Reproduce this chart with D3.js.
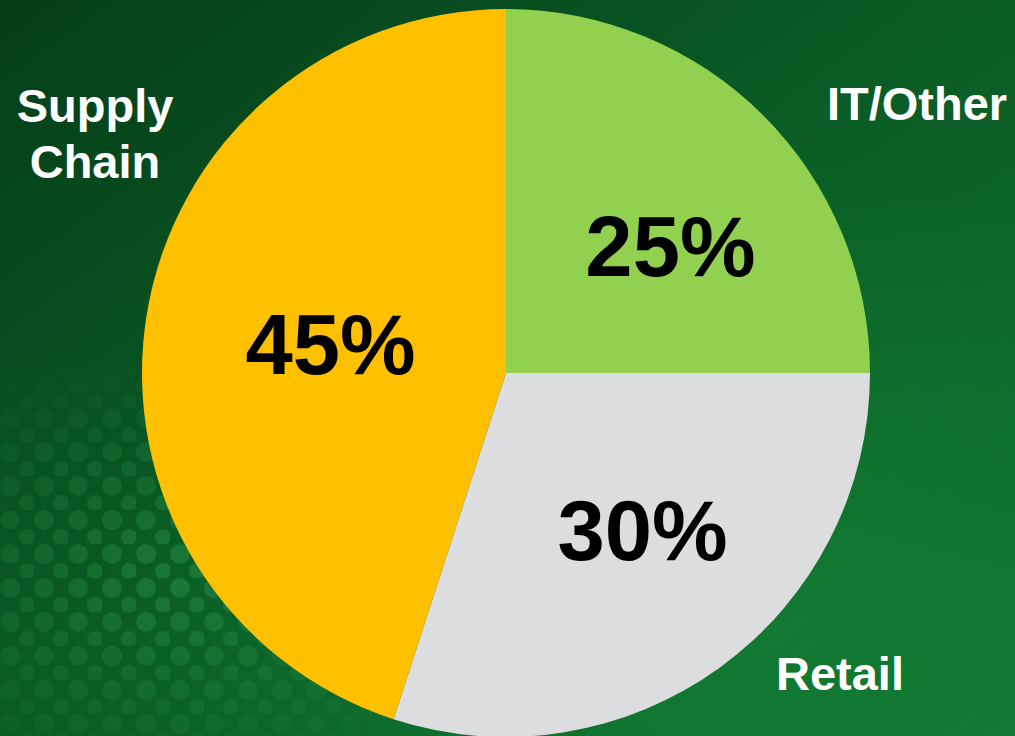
<!DOCTYPE html>
<html>
<head>
<meta charset="utf-8">
<script src="https://cdn.jsdelivr.net/npm/d3@7"></script>
<style>
  html, body { margin: 0; padding: 0; overflow: hidden; background: #0a5522; }
  svg { display: block; }
  text { font-family: "Liberation Sans", Arial, sans-serif; font-weight: bold; }
</style>
</head>
<body>
<script>
// chart data
const categories = ["IT/Other", "Retail", "Supply Chain"];
const shares = [25, 30, 45];
const percentLabels = ["25%", "30%", "45%"];
const sliceColors = ["#92D050", "#DCDDDE", "#FFC000"];

const w = 1015;
const h = 736;
const cx = 506, cy = 373;
const radius = 364;

const svg = d3.select("body").append("svg")
  .attr("width", w)
  .attr("height", h);

// background
const defs = svg.append("defs");
const bg = defs.append("linearGradient")
  .attr("id", "bg")
  .attr("x1", "0").attr("y1", "0").attr("x2", "1").attr("y2", "1");
bg.append("stop").attr("offset", "0%").attr("stop-color", "#053e19");
bg.append("stop").attr("offset", "45%").attr("stop-color", "#0a5a24");
bg.append("stop").attr("offset", "100%").attr("stop-color", "#0f7430");

const glow = defs.append("radialGradient")
  .attr("id", "glow")
  .attr("cx", "0.7").attr("cy", "0.8").attr("r", "0.6");
glow.append("stop").attr("offset", "0%").attr("stop-color", "#168a38").attr("stop-opacity", 0.5);
glow.append("stop").attr("offset", "100%").attr("stop-color", "#168a38").attr("stop-opacity", 0);

const dots = defs.append("pattern")
  .attr("id", "dots")
  .attr("width", 34).attr("height", 34)
  .attr("patternUnits", "userSpaceOnUse");
dots.append("circle").attr("cx", 10).attr("cy", 10).attr("r", 10).attr("fill", "#3fae5c");
dots.append("circle").attr("cx", 27).attr("cy", 27).attr("r", 8).attr("fill", "#3fae5c");

const dotMask = defs.append("radialGradient")
  .attr("id", "dotfade")
  .attr("cx", "0.17").attr("cy", "0.78").attr("r", "0.32");
dotMask.append("stop").attr("offset", "0%").attr("stop-color", "#fff").attr("stop-opacity", 0.32);
dotMask.append("stop").attr("offset", "100%").attr("stop-color", "#fff").attr("stop-opacity", 0);
defs.append("mask").attr("id", "m")
  .append("rect").attr("width", w).attr("height", h).attr("fill", "url(#dotfade)");

svg.append("rect").attr("width", w).attr("height", h).attr("fill", "url(#bg)");
svg.append("rect").attr("width", w).attr("height", h).attr("fill", "url(#glow)");
svg.append("rect").attr("width", w).attr("height", h)
  .attr("fill", "url(#dots)").attr("mask", "url(#m)");

// pie
const data = categories.map((c, i) => ({ name: c, value: shares[i], label: percentLabels[i], color: sliceColors[i] }));

const pie = d3.pie().sort(null).value(d => d.value);
const arc = d3.arc().innerRadius(0).outerRadius(radius);
const labelArc = d3.arc().innerRadius(200).outerRadius(200);

const g = svg.append("g").attr("transform", `translate(${cx},${cy})`);
const arcs = pie(data);

g.selectAll("path.slice")
  .data(arcs)
  .enter()
  .append("path")
  .attr("class", "slice")
  .attr("d", arc)
  .attr("fill", d => d.data.color);

// small hand nudges from the centroid, as in the original slide
const pctNudge = {
  "IT/Other": [23, 15],
  "Retail": [19, -5],
  "Supply Chain": [22, 3]
};

g.selectAll("text.pct")
  .data(arcs)
  .enter()
  .append("text")
  .attr("class", "pct")
  .attr("transform", d => {
    const c = labelArc.centroid(d);
    const n = pctNudge[d.data.name];
    return `translate(${c[0] + n[0]},${c[1] + n[1]})`;
  })
  .attr("text-anchor", "middle")
  .attr("dy", "0.35em")
  .style("font-size", "85px")
  .attr("fill", "#000")
  .text(d => d.data.label);

// category names sit outside the pie near the corners
const namePlacement = {
  "IT/Other": { x: 411, y: -253 },
  "Retail": { x: 334, y: 317 },
  "Supply Chain": { x: -411, y: -251 }
};

const names = g.selectAll("text.name")
  .data(arcs)
  .enter()
  .append("text")
  .attr("class", "name")
  .attr("x", d => namePlacement[d.data.name].x)
  .attr("y", d => namePlacement[d.data.name].y)
  .attr("text-anchor", "middle")
  .style("font-size", "47px")
  .attr("fill", "#fff");

names.each(function(d) {
  const words = d.data.name.split(" ");
  const t = d3.select(this);
  words.forEach((wd, i) => {
    t.append("tspan")
      .attr("x", namePlacement[d.data.name].x)
      .attr("dy", i === 0 ? 0 : 56)
      .text(wd);
  });
});
</script>
</body>
</html>
